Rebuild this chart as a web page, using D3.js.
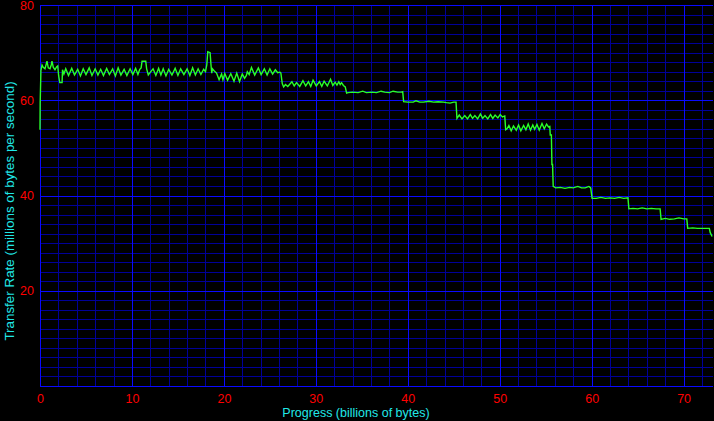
<!DOCTYPE html>
<html>
<head>
<meta charset="utf-8">
<script src="https://cdn.jsdelivr.net/npm/d3@7"></script>
<style>
  html, body { margin: 0; padding: 0; background: #000; }
  svg { display: block; }
  .tick text { font-family: "Liberation Sans", Arial, sans-serif; font-size: 12.5px; fill: #ff0000; }
  .title { font-family: "Liberation Sans", Arial, sans-serif; fill: #20e8e8; }
</style>
</head>
<body>
<script>
// ticks
var xTicks = [0, 10, 20, 30, 40, 50, 60, 70];
var yTicks = [20, 40, 60, 80];
var xGridMinor = d3.range(0, 74, 2);
var yGridMinor = d3.range(0, 81, 2);

// [progress (billions of bytes), rate (millions of bytes/s)]
var samples = [
  [0, 53.8], [0.02, 59.5], [0.1, 66.3], [0.22, 67.4], [0.35, 66.9], [0.54, 66.6], [0.68, 67.6],
  [0.76, 68.2], [0.9, 66.8], [1.09, 66.6], [1.22, 67.4], [1.3, 68.2], [1.45, 66.9], [1.63, 66.4],
  [1.8, 67.0], [1.93, 67.2], [2.03, 65.1], [2.15, 63.7], [2.4, 63.7], [2.45, 66.4], [2.6, 65.5],
  [2.8, 66.6], [3.1, 65.2], [3.45, 66.7], [3.75, 65.3], [4.1, 66.5], [4.4, 65.1], [4.7, 66.6],
  [5.0, 65.4], [5.35, 66.8], [5.65, 65.2], [6.0, 66.6], [6.3, 65.3], [6.6, 66.5], [6.9, 65.2],
  [7.25, 66.7], [7.55, 65.4], [7.9, 66.6], [8.2, 65.1], [8.5, 66.8], [8.8, 65.3], [9.15, 66.5],
  [9.45, 65.2], [9.8, 66.6], [10.1, 65.4], [10.4, 66.7], [10.65, 65.4], [10.85, 66.5], [11.0, 66.8],
  [11.1, 68.2], [11.5, 68.2], [11.6, 66.6], [11.78, 65.3], [12.05, 66.0], [12.3, 66.6], [12.6, 65.2],
  [12.9, 66.7], [13.15, 65.3], [13.4, 66.6], [13.7, 65.1], [14.0, 66.5], [14.35, 65.3], [14.7, 66.7],
  [15.0, 65.2], [15.3, 66.6], [15.65, 65.4], [16.0, 66.6], [16.3, 65.2], [16.6, 66.8], [16.9, 65.3],
  [17.2, 66.6], [17.5, 65.4], [17.8, 66.5], [18.0, 66.0], [18.14, 67.4], [18.25, 70.2], [18.5, 70.0],
  [18.6, 67.4], [18.68, 65.7], [18.76, 66.6], [18.93, 66.2], [19.2, 65.7], [19.48, 64.3],
  [19.75, 65.5], [19.9, 64.3], [20.1, 65.6], [20.4, 64.2], [20.75, 65.6], [21.1, 64.0], [21.4, 65.7],
  [21.7, 63.9], [22.0, 65.5], [22.25, 64.6], [22.45, 65.2], [22.55, 66.0],
  [22.75, 65.4], [23.0, 66.9], [23.35, 65.3], [23.75, 66.8], [24.05, 65.4], [24.4, 66.6], [24.7, 65.3],
  [25.0, 66.6], [25.3, 65.5], [25.6, 66.4], [25.85, 65.8], [26.1, 65.9], [26.2, 65.7], [26.35, 63.5],
  [26.5, 62.8], [26.7, 63.3], [26.95, 62.9], [27.4, 63.9], [27.65, 63.0], [27.9, 63.7], [28.25, 62.9],
  [28.6, 64.1], [28.9, 63.0], [29.2, 63.9], [29.45, 62.9], [29.7, 64.2], [30.05, 63.0], [30.4, 63.9],
  [30.65, 62.9], [30.9, 64.0], [31.25, 63.0], [31.6, 64.4], [31.85, 63.1], [32.1, 63.8], [32.3, 63.2],
  [32.5, 63.9], [32.65, 63.3], [32.8, 63.7], [33.0, 63.1], [33.2, 62.8], [33.35, 61.5],
  [33.5, 61.6], [34.0, 61.7], [34.6, 61.6], [35.1, 61.9], [35.5, 61.6], [36.1, 61.7], [36.6, 61.6],
  [37.1, 61.9], [37.5, 61.7], [38.0, 61.6], [38.4, 61.9], [38.9, 61.7], [39.3, 61.7], [39.45, 61.8],
  [39.55, 59.7], [40.0, 59.6], [40.6, 59.6], [40.9, 59.9], [41.3, 59.6], [41.7, 59.6], [42.3, 59.8],
  [42.8, 59.6], [43.3, 59.7], [43.9, 59.6], [44.2, 59.5], [44.6, 59.4], [45.0, 59.6], [45.25, 59.6],
  [45.35, 56.2], [45.6, 56.9], [45.9, 56.1], [46.2, 56.8], [46.5, 56.1], [46.8, 57.0], [47.05, 56.2],
  [47.3, 56.8], [47.6, 56.1], [47.9, 57.1], [48.15, 56.2], [48.4, 56.8], [48.7, 56.1], [49.0, 57.0],
  [49.25, 56.2], [49.5, 56.9], [49.8, 56.3], [50.05, 57.0], [50.3, 56.5], [50.55, 56.7], [50.65, 53.8],
  [50.8, 54.0], [51.0, 54.7], [51.25, 53.6], [51.5, 54.6], [51.8, 53.7], [52.05, 54.8], [52.3, 53.6],
  [52.6, 54.7], [52.85, 53.8], [53.1, 55.0], [53.35, 53.7], [53.6, 54.8], [53.8, 53.9], [54.05, 54.9],
  [54.3, 53.7], [54.6, 55.1], [54.85, 54.0], [55.1, 55.0], [55.3, 54.4], [55.45, 54.5], [55.5, 52.7],
  [55.62, 52.7], [55.68, 46.5], [55.75, 46.5], [55.82, 41.9],
  [56.1, 41.6], [56.6, 41.7], [57.1, 41.5], [57.6, 41.7], [58.0, 41.6], [58.5, 41.9], [58.9, 41.6],
  [59.3, 41.6], [59.7, 41.9], [59.9, 41.6], [60.05, 39.4],
  [60.5, 39.4], [61.0, 39.6], [61.5, 39.4], [62.0, 39.5], [62.5, 39.4], [63.0, 39.6], [63.5, 39.4],
  [63.95, 39.5], [64.05, 37.2],
  [64.5, 37.3], [65.0, 37.2], [65.5, 37.4], [66.0, 37.2], [66.5, 37.3], [67.0, 37.2], [67.45, 37.2],
  [67.55, 35.0], [68.0, 35.2], [68.5, 35.0], [69.0, 35.1], [69.5, 35.3], [70.0, 35.1], [70.35, 35.1],
  [70.45, 33.1], [71.0, 33.2], [71.5, 33.1], [72.0, 33.1], [72.5, 33.1], [72.8, 33.1], [72.9, 32.2],
  [73.1, 31.4]
];

var W = 714, H = 421;
var plotLeft = 40, plotRight = 713, plotTop = 5, plotBottom = 386;

var svg = d3.select('body').append('svg')
    .attr('width', W)
    .attr('height', H);

svg.append('rect').attr('width', W).attr('height', H).attr('fill', '#000');

var x = d3.scaleLinear().domain([0, 73.2]).range([plotLeft, plotRight]);
var y = d3.scaleLinear().domain([0, 80]).range([plotBottom, plotTop]);

var minorColor = '#000098', majorColor = '#0a0aff';

function gridX(values, color) {
  svg.append('g')
    .attr('transform', 'translate(0,' + plotBottom + ')')
    .call(d3.axisBottom(x).tickValues(values).tickSize(-(plotBottom - plotTop)).tickFormat(''))
    .call(function (g) { g.select('.domain').remove(); })
    .selectAll('line').attr('stroke', color).attr('shape-rendering', 'crispEdges');
}
function gridY(values, color) {
  svg.append('g')
    .attr('transform', 'translate(' + plotLeft + ',0)')
    .call(d3.axisLeft(y).tickValues(values).tickSize(-(plotRight - plotLeft)).tickFormat(''))
    .call(function (g) { g.select('.domain').remove(); })
    .selectAll('line').attr('stroke', color).attr('shape-rendering', 'crispEdges');
}

gridX(xGridMinor, minorColor);
gridY(yGridMinor, minorColor);
gridX(xTicks, majorColor);
gridY(yTicks, majorColor);

// axis lines
svg.append('line')
  .attr('x1', plotLeft).attr('x2', plotRight).attr('y1', plotBottom).attr('y2', plotBottom)
  .attr('stroke', majorColor).attr('shape-rendering', 'crispEdges');
svg.append('line')
  .attr('x1', plotLeft).attr('x2', plotLeft).attr('y1', plotTop).attr('y2', plotBottom)
  .attr('stroke', majorColor).attr('shape-rendering', 'crispEdges');

// tick labels
svg.append('g')
  .attr('transform', 'translate(0,' + plotBottom + ')')
  .call(d3.axisBottom(x).tickValues(xTicks).tickSize(0).tickPadding(8))
  .call(function (g) { g.select('.domain').remove(); });

svg.append('g')
  .attr('transform', 'translate(' + plotLeft + ',0)')
  .call(d3.axisLeft(y).tickValues(yTicks).tickSize(0).tickPadding(6))
  .call(function (g) { g.select('.domain').remove(); });

// the data line
var line = d3.line()
  .x(function (d) { return x(d[0]); })
  .y(function (d) { return y(d[1]); });

svg.append('path')
  .datum(samples)
  .attr('d', line)
  .attr('fill', 'none')
  .attr('stroke', '#2aff2a')
  .attr('stroke-width', 1.4);

// titles
svg.append('text')
  .attr('class', 'title')
  .attr('x', 356)
  .attr('y', 417)
  .attr('font-size', '12.5px')
  .attr('text-anchor', 'middle')
  .text('Progress (billions of bytes)');

svg.append('text')
  .attr('class', 'title')
  .attr('transform', 'translate(13.5,211) rotate(-90)')
  .attr('font-size', '13.4px')
  .attr('text-anchor', 'middle')
  .text('Transfer Rate (millions of bytes per second)');
</script>
</body>
</html>
